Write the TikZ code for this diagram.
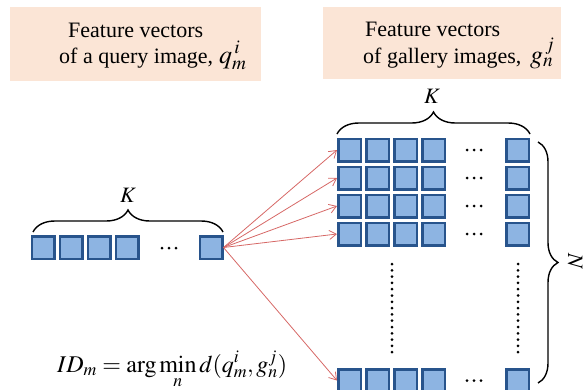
\documentclass[tikz,border=0pt]{standalone}
\usepackage{mathptmx}
\usepackage[no-math]{fontspec}
\setmainfont{Liberation Serif}
\usetikzlibrary{arrows.meta,decorations.pathreplacing}
\definecolor{peach}{RGB}{251,229,214}
\definecolor{boxfill}{RGB}{141,180,226}
\definecolor{boxdraw}{RGB}{40,84,140}
\definecolor{arrred}{RGB}{214,104,102}
\tikzset{
  vecbox/.style={draw=boxdraw, fill=boxfill, line width=2.5pt, minimum size=22.5pt, inner sep=0pt},
  title/.style={anchor=base west, inner sep=0pt, font=\fontsize{22}{26}\selectfont},
  titlemath/.style={anchor=base west, inner sep=0pt, font=\fontsize{26}{30}\selectfont},
  bg/.style={fill=peach, anchor=north west, inner sep=0pt},
  linkarrow/.style={draw=arrred, line width=0.8pt, -{Straight Barb[length=7pt,width=9pt]}},
  bracestyle/.style={decorate, decoration={brace, amplitude=22pt}, line width=1.4pt},
  biglabel/.style={inner sep=0pt, font=\fontsize{22}{24}\selectfont},
  dotmark/.style={fill=black, draw=none},
}
\begin{document}
\begin{tikzpicture}[x=1pt,y=-1pt]
\useasboundingbox (0,0) rectangle (585,389);
% title backgrounds
\node[bg, minimum width=251pt, minimum height=74pt] (qbg) at (10,7) {};
\node[bg, minimum width=238pt, minimum height=72pt] (gbg) at (323,7) {};
\node[title] (qt1) at (68,37) {Feature vectors};
\node[title] (qt2) at (59,63) {of a query image,};
\node[titlemath] (qsym) at (219,63) {$q_m^{\,i}$};
\node[title] (gt1) at (365,36) {Feature vectors};
\node[title] (gt2) at (363,63) {of gallery images,};
\node[titlemath] (gsym) at (530,63) {$g_n^{\,j}$};
% query row
\foreach \n/\x in {1/43,2/71,3/99,4/127,5/211}
  \node[vecbox] (q\n) at (\x,247.5) {};
\foreach \d in {-7,0,7}
  \fill[dotmark] (169+\d,248) circle (1.5pt);
% gallery grid
\foreach \r/\y in {1/150,2/178,3/206,4/234,5/380.5}{
  \foreach \c/\x in {1/349.5,2/377.5,3/405.5,4/433.5,5/517.5}
    \node[vecbox] (g\r\c) at (\x,\y) {};
  \foreach \d in {-7,0,7}
    \fill[dotmark] (474+\d,\y) circle (1.5pt);
}
% vertical dots
\foreach \i in {0,...,14}{
  \fill[dotmark] (392,264+\i*6.3) circle (1.5pt);
  \fill[dotmark] (518,264+\i*6.3) circle (1.5pt);
}
% arrows
\foreach \r in {1,2,3,4,5}
  \draw[linkarrow] (q5.east) -- (g\r1.west);
% braces
\draw[bracestyle] (33,232) -- (223,232);
\node[biglabel] (kq) at (128,195) {$K$};
\draw[bracestyle] (337,134) -- (530,134);
\node[biglabel] (kg) at (432,96) {$K$};
\draw[bracestyle, decoration={amplitude=20pt}] (538,142) -- (538,383);
\node[biglabel, rotate=-90] (nlab) at (575,261) {$N$};
% formula
\node[anchor=base west, inner sep=0pt, font=\fontsize{24}{28}\selectfont] (formula) at (57,372)
  {$\displaystyle ID_m = \arg\min_n d(q_m^i, g_n^j)$};
\end{tikzpicture}
\end{document}
